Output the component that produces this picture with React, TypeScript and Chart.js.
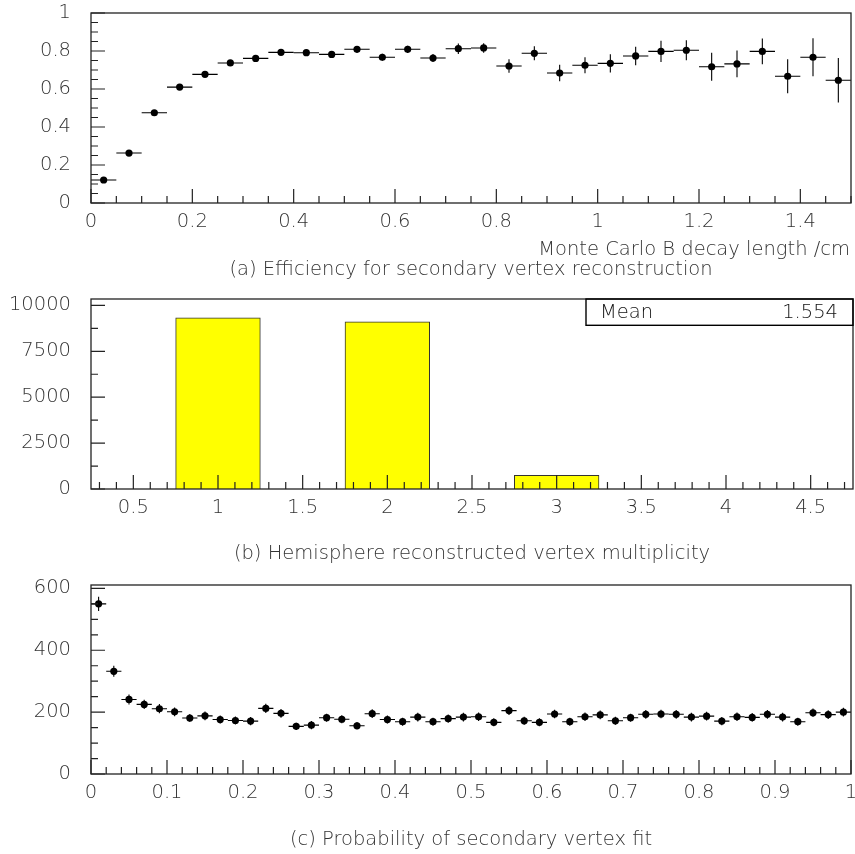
import { useEffect, useRef } from "react";
import { Chart, registerables } from "chart.js";

Chart.register(...registerables);

const FONT_FAMILY = "'DejaVu Sans', sans-serif";
const FONT_SIZE = 19.5;
const FONT_WEIGHT = 200;
const INK = "#222";
const TEXT = "#333";

// ---- (a) efficiency for secondary vertex reconstruction ----
const decayLengthBins = [
  0.025, 0.075, 0.125, 0.175, 0.225, 0.275, 0.325, 0.375, 0.425, 0.475,
  0.525, 0.575, 0.625, 0.675, 0.725, 0.775, 0.825, 0.875, 0.925, 0.975,
  1.025, 1.075, 1.125, 1.175, 1.225, 1.275, 1.325, 1.375, 1.425, 1.475,
];
const efficiency = [
  0.121, 0.263, 0.475, 0.61, 0.677, 0.737, 0.761, 0.793, 0.791, 0.782,
  0.809, 0.767, 0.809, 0.763, 0.812, 0.816, 0.721, 0.788, 0.684, 0.725,
  0.735, 0.774, 0.798, 0.804, 0.717, 0.732, 0.798, 0.667, 0.767, 0.646,
];
const efficiencyErr = [
  0.01, 0.012, 0.013, 0.013, 0.013, 0.013, 0.013, 0.014, 0.015, 0.016,
  0.017, 0.018, 0.019, 0.021, 0.028, 0.025, 0.035, 0.037, 0.043, 0.042,
  0.048, 0.049, 0.056, 0.053, 0.074, 0.07, 0.068, 0.09, 0.1, 0.117,
];
const decayTickValues = [0, 0.2, 0.4, 0.6, 0.8, 1, 1.2, 1.4];
const decayTickLabels = ["0", "0.2", "0.4", "0.6", "0.8", "1", "1.2", "1.4"];
const effTickValues = [0, 0.2, 0.4, 0.6, 0.8, 1];
const effTickLabels = ["0", "0.2", "0.4", "0.6", "0.8", "1"];

// ---- (b) hemisphere reconstructed vertex multiplicity ----
const multiplicity = [1, 2, 3];
const hemisphereCounts = [9330, 9100, 740];
const multTickValues = [0.5, 1, 1.5, 2, 2.5, 3, 3.5, 4, 4.5];
const multTickLabels = ["0.5", "1", "1.5", "2", "2.5", "3", "3.5", "4", "4.5"];
const countTickValues = [0, 2500, 5000, 7500, 10000];
const countTickLabels = ["0", "2500", "5000", "7500", "10000"];
const meanMultiplicity = "1.554";

// ---- (c) probability of secondary vertex fit ----
const probBins = [
  0.01, 0.03, 0.05, 0.07, 0.09, 0.11, 0.13, 0.15, 0.17, 0.19,
  0.21, 0.23, 0.25, 0.27, 0.29, 0.31, 0.33, 0.35, 0.37, 0.39,
  0.41, 0.43, 0.45, 0.47, 0.49, 0.51, 0.53, 0.55, 0.57, 0.59,
  0.61, 0.63, 0.65, 0.67, 0.69, 0.71, 0.73, 0.75, 0.77, 0.79,
  0.81, 0.83, 0.85, 0.87, 0.89, 0.91, 0.93, 0.95, 0.97, 0.99,
];
const probCounts = [
  550, 332, 241, 225, 211, 201, 181, 188, 176, 173,
  171, 212, 196, 154, 158, 182, 177, 156, 195, 176,
  169, 184, 169, 179, 184, 185, 167, 205, 172, 167,
  194, 169, 185, 191, 172, 182, 193, 194, 193, 184,
  187, 171, 185, 183, 193, 184, 169, 198, 192, 200,
];
const probErr = [
  23, 18, 16, 15, 15, 14, 13, 14, 13, 13,
  13, 15, 14, 12, 13, 13, 13, 12, 14, 13,
  13, 14, 13, 13, 14, 14, 13, 14, 13, 13,
  14, 13, 14, 14, 13, 13, 14, 14, 14, 14,
  14, 13, 14, 14, 14, 14, 13, 14, 14, 14,
];
const probTickValues = [0, 0.1, 0.2, 0.3, 0.4, 0.5, 0.6, 0.7, 0.8, 0.9, 1];
const probTickLabels = ["0", "0.1", "0.2", "0.3", "0.4", "0.5", "0.6", "0.7", "0.8", "0.9", "1"];
const probCountTickValues = [0, 200, 400, 600];
const probCountTickLabels = ["0", "200", "400", "600"];

type TextItem = { text: string; x: number; y: number; align: CanvasTextAlign };

type PanelDecor = {
  xMinor: number;
  xMajor: number;
  yMinor: number;
  yMajor: number;
  texts: TextItem[];
  statBox?: { left: number; bottom: number; label: string; value: string; labelX: number; valueX: number; textY: number };
};

const cssFont = () => `${FONT_WEIGHT} ${FONT_SIZE}px ${FONT_FAMILY}`;

function tickSteps(min: number, max: number, step: number): number[] {
  const out: number[] = [];
  const first = Math.ceil(min / step - 1e-9);
  const last = Math.floor(max / step + 1e-9);
  for (let k = first; k <= last; k++) out.push(k * step);
  return out;
}

function isMultiple(v: number, step: number): boolean {
  const r = v / step;
  return Math.abs(r - Math.round(r)) < 1e-6;
}

function decorPlugin(decor: PanelDecor) {
  return {
    id: "panelDecor",
    beforeDatasetsDraw(chart: any) {
      const ctx: CanvasRenderingContext2D = chart.ctx;
      const xs = chart.scales.x;
      const ys = chart.scales.y;
      ctx.save();
      ctx.strokeStyle = "#000";
      ctx.lineWidth = 1.1;
      chart.data.datasets.forEach((ds: any) => {
        if (!ds.errorY) return;
        ds.data.forEach((p: any, j: number) => {
          const cx = xs.getPixelForValue(p.x);
          const cy = ys.getPixelForValue(p.y);
          const xl = xs.getPixelForValue(p.x - ds.halfWidth);
          const xr = xs.getPixelForValue(p.x + ds.halfWidth);
          const yt = ys.getPixelForValue(p.y + ds.errorY[j]);
          const yb = ys.getPixelForValue(p.y - ds.errorY[j]);
          ctx.beginPath();
          ctx.moveTo(xl, cy);
          ctx.lineTo(xr, cy);
          ctx.moveTo(cx, yt);
          ctx.lineTo(cx, yb);
          ctx.stroke();
        });
      });
      ctx.restore();
    },
    afterDatasetsDraw(chart: any) {
      const ctx: CanvasRenderingContext2D = chart.ctx;
      const { left, right, top, bottom } = chart.chartArea;
      const xs = chart.scales.x;
      const ys = chart.scales.y;
      ctx.save();
      ctx.strokeStyle = INK;
      ctx.lineWidth = 1.2;
      // tick marks drawn inward from the bottom and left edges
      ctx.beginPath();
      tickSteps(xs.min, xs.max, decor.xMinor).forEach((v) => {
        const px = xs.getPixelForValue(v);
        const len = isMultiple(v, decor.xMajor) ? 14 : 7;
        ctx.moveTo(px, bottom);
        ctx.lineTo(px, bottom - len);
      });
      tickSteps(ys.min, ys.max, decor.yMinor).forEach((v) => {
        const py = ys.getPixelForValue(v);
        const len = isMultiple(v, decor.yMajor) ? 14 : 7;
        ctx.moveTo(left, py);
        ctx.lineTo(left + len, py);
      });
      ctx.stroke();
      // frame
      ctx.lineWidth = 1.3;
      ctx.strokeRect(left, top, right - left, bottom - top);

      if (decor.statBox) {
        const sb = decor.statBox;
        ctx.strokeStyle = "#000";
        ctx.lineWidth = 1.4;
        ctx.strokeRect(sb.left, top, right - sb.left, sb.bottom - top);
        ctx.fillStyle = "#111";
        ctx.font = cssFont();
        ctx.textBaseline = "middle";
        ctx.textAlign = "left";
        ctx.fillText(sb.label, sb.labelX, sb.textY);
        ctx.textAlign = "right";
        ctx.fillText(sb.value, sb.valueX, sb.textY);
      }

      ctx.fillStyle = TEXT;
      ctx.font = cssFont();
      ctx.textBaseline = "middle";
      decor.texts.forEach((t) => {
        ctx.textAlign = t.align;
        const x = t.align === "center" ? (left + right) / 2 : t.x;
        ctx.fillText(t.text, x, t.y);
      });
      ctx.restore();
    },
  };
}

function linearAxis(
  min: number,
  max: number,
  values: number[],
  labels: string[],
  axis: "x" | "y",
  fitSize: number,
) {
  return {
    type: "linear" as const,
    position: axis === "x" ? ("bottom" as const) : ("left" as const),
    min,
    max,
    offset: false,
    grid: { display: false, drawTicks: false },
    border: { display: false },
    afterBuildTicks: (scale: any) => {
      scale.ticks = values.map((v) => ({ value: v }));
    },
    afterFit: (scale: any) => {
      if (axis === "x") scale.height = fitSize;
      else scale.width = fitSize;
      scale.paddingLeft = 0;
      scale.paddingRight = 0;
      scale.paddingTop = 0;
      scale.paddingBottom = 0;
    },
    ticks: {
      autoSkip: false,
      maxRotation: 0,
      minRotation: 0,
      padding: axis === "x" ? 7 : 20,
      color: TEXT,
      font: { family: FONT_FAMILY, size: FONT_SIZE, weight: FONT_WEIGHT },
      callback: (v: any) => {
        const idx = values.findIndex((t) => Math.abs(t - Number(v)) < 1e-9);
        return idx >= 0 ? labels[idx] : "";
      },
    },
  };
}

function baseOptions(padTop: number, x: any, y: any) {
  return {
    responsive: false,
    animation: false as const,
    events: [] as any[],
    layout: { padding: { top: padTop, right: 2, left: 0, bottom: 0 } },
    plugins: { legend: { display: false }, tooltip: { enabled: false } },
    scales: { x, y },
  };
}

function PanelCanvas({ top, height, build }: { top: number; height: number; build: (c: HTMLCanvasElement) => Chart }) {
  const ref = useRef<HTMLCanvasElement | null>(null);
  useEffect(() => {
    if (!ref.current) return;
    const chart = build(ref.current);
    return () => chart.destroy();
  }, [build]);
  return (
    <canvas
      ref={ref}
      width={855}
      height={height}
      style={{ position: "absolute", left: 0, top, width: 855, height }}
    />
  );
}

const buildEfficiency = (canvas: HTMLCanvasElement) =>
  new Chart(canvas, {
    type: "scatter",
    data: {
      datasets: [
        {
          data: decayLengthBins.map((x, i) => ({ x, y: efficiency[i] })),
          errorY: efficiencyErr,
          halfWidth: 0.025,
          pointRadius: 3.6,
          pointBackgroundColor: "#000",
          pointBorderWidth: 0,
          showLine: false,
        } as any,
      ],
    },
    options: baseOptions(
      13,
      linearAxis(0, 1.5, decayTickValues, decayTickLabels, "x", 82),
      linearAxis(0, 1, effTickValues, effTickLabels, "y", 91),
    ) as any,
    plugins: [
      decorPlugin({
        xMinor: 0.05,
        xMajor: 0.2,
        yMinor: 0.05,
        yMajor: 0.2,
        texts: [
          { text: "Monte Carlo B decay length /cm", x: 850, y: 250, align: "right" },
          { text: "(a) Efficiency for secondary vertex reconstruction", x: 0, y: 269.5, align: "center" },
        ],
      }),
    ],
  });

const buildMultiplicity = (canvas: HTMLCanvasElement) =>
  new Chart(canvas, {
    type: "bar",
    data: {
      datasets: [
        {
          data: multiplicity.map((x, i) => ({ x, y: hemisphereCounts[i] })),
          backgroundColor: "#ffff00",
          borderColor: "#333",
          borderWidth: 1,
          barPercentage: 1,
          categoryPercentage: 1,
        } as any,
      ],
    },
    options: baseOptions(
      14,
      linearAxis(0.25, 4.75, multTickValues, multTickLabels, "x", 76),
      linearAxis(0, 10350, countTickValues, countTickLabels, "y", 91),
    ) as any,
    plugins: [
      decorPlugin({
        xMinor: 0.1,
        xMajor: 0.5,
        yMinor: 1250,
        yMajor: 2500,
        texts: [
          { text: "(b) Hemisphere reconstructed vertex multiplicity", x: 0, y: 268.5, align: "center" },
        ],
        statBox: {
          left: 586,
          bottom: 40.3,
          label: "Mean",
          value: meanMultiplicity,
          labelX: 600,
          valueX: 838,
          textY: 28,
        },
      }),
    ],
  });

const buildProbability = (canvas: HTMLCanvasElement) =>
  new Chart(canvas, {
    type: "scatter",
    data: {
      datasets: [
        {
          data: probBins.map((x, i) => ({ x, y: probCounts[i] })),
          errorY: probErr,
          halfWidth: 0.01,
          pointRadius: 3.6,
          pointBackgroundColor: "#000",
          pointBorderWidth: 0,
          showLine: false,
        } as any,
      ],
    },
    options: baseOptions(
      20,
      linearAxis(0, 1, probTickValues, probTickLabels, "x", 80),
      linearAxis(0, 611, probCountTickValues, probCountTickLabels, "y", 91),
    ) as any,
    plugins: [
      decorPlugin({
        xMinor: 0.02,
        xMajor: 0.1,
        yMinor: 50,
        yMajor: 200,
        texts: [
          { text: "(c) Probability of secondary vertex fit", x: 0, y: 274.5, align: "center" },
        ],
      }),
    ],
  });

export default function App() {
  return (
    <div style={{ position: "absolute", left: 0, top: 0, width: 855, height: 854, background: "#fff" }}>
      <PanelCanvas top={0} height={285} build={buildEfficiency} />
      <PanelCanvas top={285} height={280} build={buildMultiplicity} />
      <PanelCanvas top={565} height={289} build={buildProbability} />
    </div>
  );
}
